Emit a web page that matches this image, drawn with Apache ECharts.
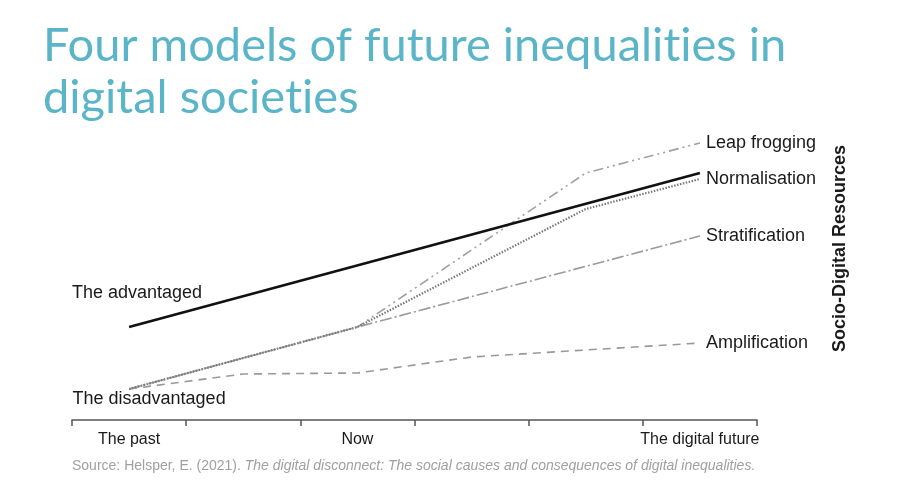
<!DOCTYPE html>
<html lang="en">
<head>
    <meta charset="UTF-8">
    <title>Four models of future inequalities</title>
    <script src="https://cdn.jsdelivr.net/npm/echarts@6/dist/echarts.min.js"></script>
    <style>
        body { margin: 0; background: #fff; }
    </style>
</head>
<body>
<div id="main" style="width: 907px;height:484px;"></div>
<script>
    // x categories (ticks sit between them, labels in the middle)
    var periods = ['The past', '', 'Now', '', '', 'The digital future'];

    // values are heights above the axis, [periodIndex, value]
    var advantaged    = [[0, 93], [5, 247]];
    var leapFrogging  = [[0, 31], [2, 93], [4, 247], [5, 277]];
    var normalisation = [[0, 31], [2, 93], [4, 211], [5, 241]];
    var stratification = [[0, 31], [2, 93], [5, 184]];
    var amplification = [[0, 31], [1, 46], [2, 47], [3, 63], [5, 77]];

    var myChart = echarts.init(document.getElementById('main'));

    var txt = '#1a1a1a';
    var endLbl = {
        show: true,
        formatter: '{a}',
        color: txt,
        fontSize: 18,
        fontFamily: 'Liberation Sans',
        distance: 6
    };

    function line(name, data, style, withLabel) {
        return {
            name: name,
            type: 'line',
            data: data,
            symbol: 'circle',
            symbolSize: 1,
            showSymbol: true,
            silent: true,
            itemStyle: {color: 'rgba(0,0,0,0)'},
            lineStyle: style,
            endLabel: withLabel ? endLbl : {show: false}
        };
    }

    // start labels tied to the first points
    function startLabel(data, text, lbl) {
        return data.map(function (p, i) {
            if (i !== 0) return p;
            return {
                value: p,
                label: Object.assign({
                    show: true, formatter: text, color: txt, fontSize: 18,
                    fontFamily: 'Liberation Sans'
                }, lbl)
            };
        });
    }
    var advData = startLabel(advantaged, 'The advantaged',
        {position: 'top', distance: 24, offset: [8, 0]});
    var ampData = startLabel(amplification, 'The disadvantaged',
        {position: 'bottom', distance: 1, offset: [20, 0]});

    var titleStyle = {color: '#5bb5c8', fontFamily: 'Lato', fontWeight: 'normal', fontSize: 47, lineHeight: 52};

    var option = {
        animation: false,
        backgroundColor: '#fff',
        textStyle: {fontFamily: 'Liberation Sans'},
        title: {
            // the "t" is its own rich token so Lato does not fuse "ti"
            text: 'Four models of future inequali{t|t}ies in\ndigital socie{t|t}ies',
            left: 38,
            top: 15,
            textStyle: Object.assign({rich: {t: titleStyle}}, titleStyle)
        },
        graphic: [
            {
                type: 'text',
                left: 831,
                top: 145,
                rotation: Math.PI / 2,
                style: {
                    text: 'Socio-Digital Resources',
                    fill: txt,
                    font: 'bold 18px "Liberation Sans"'
                }
            },
            {
                type: 'text',
                left: 72,
                top: 459,
                style: {
                    text: '{n|Source: Helsper, E. (2021). }{i|The digital disconnect: The social causes and consequences of digital inequalities.}',
                    rich: {
                        n: {fill: '#a0a0a0', font: '14px "Liberation Sans"'},
                        i: {fill: '#a0a0a0', font: 'italic 14px "Liberation Sans"'}
                    }
                }
            }
        ],
        grid: {left: 72, right: 150, top: 130, bottom: 64},
        xAxis: {
            type: 'category',
            data: periods,
            boundaryGap: true,
            axisLine: {lineStyle: {color: '#555', width: 1.5}},
            axisTick: {show: true, length: 6, interval: 0, lineStyle: {color: '#555', width: 1.5}},
            axisLabel: {interval: 0, color: txt, fontSize: 16, margin: 12}
        },
        yAxis: {
            type: 'value',
            min: 0,
            max: 290,
            show: false
        },
        series: [
            line('Amplification', ampData, {color: '#999', width: 1.6, type: [8, 6]}, true),
            line('Stratification', stratification, {color: '#9a9a9a', width: 1.6, type: [12, 3, 2, 3]}, true),
            line('Leap frogging', leapFrogging, {color: '#a0a0a0', width: 1.6, type: [10, 4, 2, 4, 2, 4]}, true),
            line('Normalisation', normalisation, {color: '#7a7a7a', width: 2.2, type: [1.5, 1.5]}, true),
            line('The advantaged', advData, {color: '#111', width: 2.6, type: 'solid'}, false)
        ]
    };

    myChart.setOption(option);
</script>
</body>
</html>
